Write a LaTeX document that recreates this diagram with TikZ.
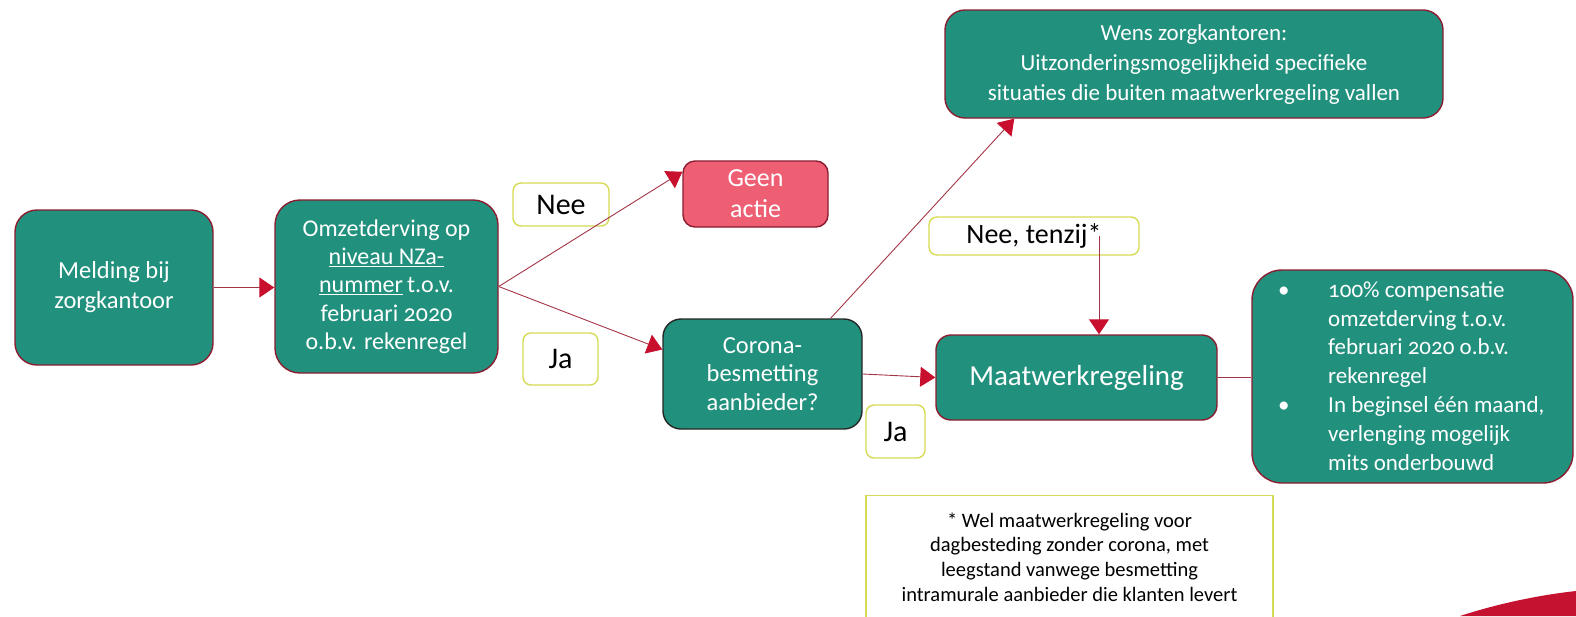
\documentclass[tikz,border=0pt]{standalone}
\usepackage{fontspec}
\setmainfont[Numbers=OldStyle]{Carlito}
\usetikzlibrary{arrows.meta,calc}
\definecolor{teal1}{HTML}{21917E}
\definecolor{bord}{HTML}{8C1C30}
\definecolor{pinkf}{HTML}{EE5F74}
\definecolor{lab}{HTML}{D6DB55}
\definecolor{conn}{HTML}{A33545}
\definecolor{tip}{HTML}{C8102E}
\definecolor{swoosh}{HTML}{C41230}
\tikzset{
  box/.style={draw=bord, line width=1.4pt, fill=teal1, text=white, align=center, inner sep=0pt},
  lbl/.style={draw=lab, line width=1.4pt, fill=white, text=black, align=center, inner sep=0pt, rounded corners=8pt},
  conline/.style={draw=conn, line width=0.9pt},
  arr/.style={conline, -{Triangle[length=15pt,width=20pt,color=tip]}},
}
\begin{document}
\begin{tikzpicture}[x=1pt,y=-1pt]
\useasboundingbox (0,0) rectangle (1576,616);
% nodes
\node[box, rounded corners=22pt, minimum width=198pt, minimum height=155pt,
  font=\fontsize{24.5}{30}\selectfont] (meld) at (114,287.5) {Melding bij\\zorgkantoor};
\node[box, rounded corners=25pt, minimum width=223pt, minimum height=173pt,
  font=\fontsize{24}{28.3}\selectfont] (omzet) at (386.5,286.5)
  {Omzetderving op\\\underline{niveau NZa-}\\\underline{nummer}\,t.o.v.\\februari 2020\\o.b.v. rekenregel};
\node[box, fill=pinkf, rounded corners=12pt, minimum width=145pt, minimum height=66pt,
  font=\fontsize{26}{31}\selectfont] (geen) at (755.5,194) {Geen\\actie};
\node[box, draw=black!85, rounded corners=18pt, minimum width=199pt, minimum height=110pt,
  font=\fontsize{24.5}{28.3}\selectfont] (corona) at (762.5,374) {Corona-\\besmetting\\aanbieder?};
\node[box, rounded corners=20pt, minimum width=498pt, minimum height=108pt,
  font=\fontsize{23}{30}\selectfont] (wens) at (1194,64)
  {Wens zorgkantoren:\\Uitzonderingsmogelijkheid specifieke\\situaties die buiten maatwerkregeling vallen};
\node[box, rounded corners=15pt, minimum width=281pt, minimum height=85pt,
  font=\fontsize{29}{32}\selectfont] (maat) at (1076.5,377.5) {Maatwerkregeling};
\node[box, rounded corners=30pt, minimum width=321pt, minimum height=213pt] (bullet) at (1412.5,376.5) {};
\node[anchor=west, text=white, inner sep=0pt, align=left, font=\fontsize{23}{28.8}\selectfont] (bullettext) at (1328,378)
  {\strut 100\% compensatie\\omzetderving t.o.v.\\februari 2020 o.b.v.\\rekenregel\\In beginsel één maand,\\verlenging mogelijk\\mits onderbouwd\strut};
\node[anchor=west, text=white, inner sep=0pt, align=left, font=\fontsize{23}{28.8}\selectfont] (bullets) at (1278,378)
  {\strut\textbullet\\\strut\\\strut\\\strut\\\textbullet\\\strut\\\strut};
% labels
\node[lbl, minimum width=96pt, minimum height=43pt, font=\fontsize{30}{32}\selectfont] (nee) at (561,204.5) {Nee};
\node[lbl, minimum width=75pt, minimum height=52pt, font=\fontsize{30}{32}\selectfont] (ja1) at (560.5,359) {Ja};
\node[lbl, minimum width=210pt, minimum height=38pt, font=\fontsize{28}{30}\selectfont] (tenzij) at (1034,236) {Nee, tenzij*};
\node[lbl, minimum width=59pt, minimum height=53pt, font=\fontsize{30}{32}\selectfont] (ja2) at (895.5,431.5) {Ja};
\node[lbl, rounded corners=0pt, minimum width=407pt, minimum height=140pt, anchor=north] (footbox) at (1069.5,495) {};
\node[align=center, text=black, inner sep=0pt, font=\fontsize{20.5}{24.7}\selectfont] (foot) at (1069.5,557)
  {* Wel maatwerkregeling voor\\dagbesteding zonder corona, met\\leegstand vanwege besmetting\\intramurale aanbieder die klanten levert};
% connectors
\draw[arr] (meld.east) -- (meld.east -| omzet.west);
\draw[arr] (omzet.east) -- ($(geen.north west)!0.17!(geen.south west)$);
\draw[arr] (omzet.east) -- ($(corona.north west)!0.28!(corona.south west)$);
\draw[arr] ($(corona.north west)!0.84!(corona.north east)$) -- ($(wens.south west)!0.14!(wens.south east)$);
\draw[arr] (corona.east) -- (maat.west);
\coordinate (tz) at ($(tenzij.center)+(65,0)$);
\draw[arr] (tz) -- (tz |- maat.north);
\draw[conline] (maat.east) -- (maat.east -| bullet.west);
% logo swoosh
\fill[swoosh] (1460,616) .. controls (1500,603) and (1540,595) .. (1576,591) -- (1576,616) -- cycle;
\end{tikzpicture}
\end{document}
